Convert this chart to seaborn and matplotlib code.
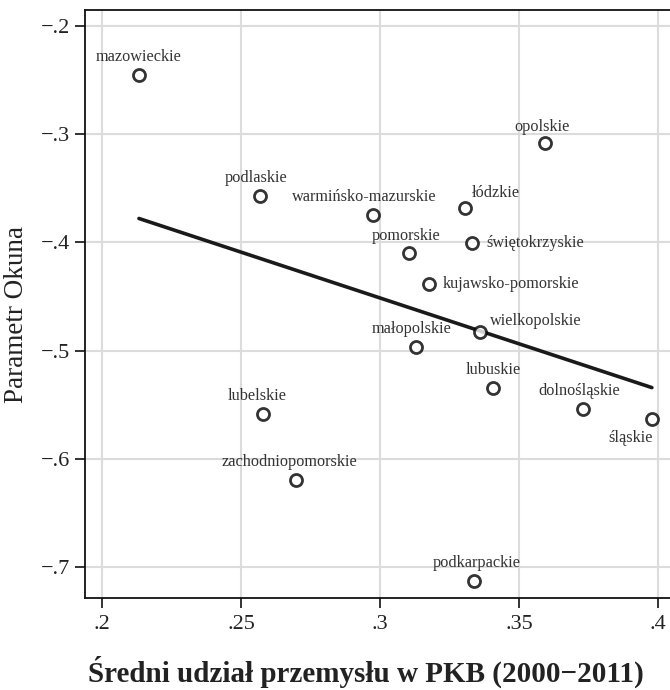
import numpy as np
import pandas as pd
import matplotlib
matplotlib.use("Agg")
import matplotlib.pyplot as plt
import seaborn as sns

regions = ["mazowieckie", "podlaskie", "warmińsko-mazurskie", "łódzkie", "opolskie",
           "pomorskie", "świętokrzyskie", "kujawsko-pomorskie", "wielkopolskie",
           "małopolskie", "lubuskie", "dolnośląskie", "śląskie", "lubelskie",
           "zachodniopomorskie", "podkarpackie"]
industry_share = [0.2133, 0.2568, 0.2975, 0.3306, 0.3594,
                  0.3104, 0.3331, 0.3176, 0.3360,
                  0.3130, 0.3407, 0.3730, 0.3978, 0.2579,
                  0.2698, 0.3338]
okun_param = [-0.2453, -0.3570, -0.3747, -0.3680, -0.3080,
              -0.4100, -0.4006, -0.4385, -0.4828,
              -0.4967, -0.5346, -0.5540, -0.5632, -0.5586,
              -0.6196, -0.7129]
x_ticks = [0.2, 0.25, 0.3, 0.35, 0.4]
x_tick_labels = [".2", ".25", ".3", ".35", ".4"]
y_ticks = [-0.2, -0.3, -0.4, -0.5, -0.6, -0.7]
y_tick_labels = ["\u2212.2", "\u2212.3", "\u2212.4", "\u2212.5", "\u2212.6", "\u2212.7"]

# label placement: (dx, dy) in points, ha, va
label_pos = {
    "mazowieckie": (0, 7, "center", "bottom"),
    "podlaskie": (-3, 7, "center", "bottom"),
    "warmińsko-mazurskie": (-6, 7, "center", "bottom"),
    "łódzkie": (5, 5, "left", "bottom"),
    "opolskie": (-2, 6, "center", "bottom"),
    "pomorskie": (-2, 7, "center", "bottom"),
    "świętokrzyskie": (10, 0, "left", "center"),
    "kujawsko-pomorskie": (10, 0, "left", "center"),
    "wielkopolskie": (7, 2, "left", "bottom"),
    "małopolskie": (-3, 7, "center", "bottom"),
    "lubuskie": (0, 7, "center", "bottom"),
    "dolnośląskie": (-3, 7, "center", "bottom"),
    "śląskie": (1, -8, "right", "top"),
    "lubelskie": (-4, 7, "center", "bottom"),
    "zachodniopomorskie": (-5, 7, "center", "bottom"),
    "podkarpackie": (2, 7, "center", "bottom"),
}

df = pd.DataFrame({"region": regions, "x": industry_share, "y": okun_param})

sns.set_theme(style="white")
plt.rcParams["font.family"] = ["Liberation Serif", "DejaVu Serif"]

fig = plt.figure(figsize=(6.7, 6.9), dpi=100)
ax = fig.add_axes([0.1269, 0.1333, 0.873, 0.852])

sns.regplot(data=df, x="x", y="y", ax=ax, ci=None, truncate=True,
            scatter_kws=dict(s=75, facecolors="white", edgecolors="#000000",
                             linewidths=2.0, zorder=3),
            line_kws=dict(color="#1a1a1a", lw=2.6, zorder=2))

for r, xv, yv in zip(regions, industry_share, okun_param):
    dx, dy, ha, va = label_pos[r]
    ax.annotate(r, (xv, yv), xytext=(dx, dy), textcoords="offset points",
                ha=ha, va=va, fontsize=11.7, color="#333333")

ax.set_xlim(0.1939, 0.4043)
ax.set_ylim(-0.7287, -0.1852)
ax.set_xticks(x_ticks)
ax.set_xticklabels(x_tick_labels)
ax.set_yticks(y_ticks)
ax.set_yticklabels(y_tick_labels)
ax.grid(True, color="#dcdcdc", lw=1.5)
ax.set_axisbelow(True)

for s in ["left", "bottom", "top"]:
    ax.spines[s].set_visible(True)
    ax.spines[s].set_color("#111111")
    ax.spines[s].set_linewidth(1.3)
ax.spines["right"].set_visible(False)

ax.tick_params(axis="both", which="major", direction="out", length=7, width=1.2,
               color="#111111", labelsize=16, labelcolor="#222222", pad=4)
ax.tick_params(axis="x", bottom=True, pad=5)
ax.tick_params(axis="y", left=True)

ax.set_xlabel("Średni udział przemysłu w PKB (2000\u22122011)", fontsize=21,
              fontweight="bold", color="#222222", labelpad=16)
ax.xaxis.label.set_x(0.48)
ax.set_ylabel("Parametr Okuna", fontsize=19.5, color="#222222", labelpad=8)
ax.yaxis.label.set_y(0.483)

fig.savefig("out.png", dpi=100)
